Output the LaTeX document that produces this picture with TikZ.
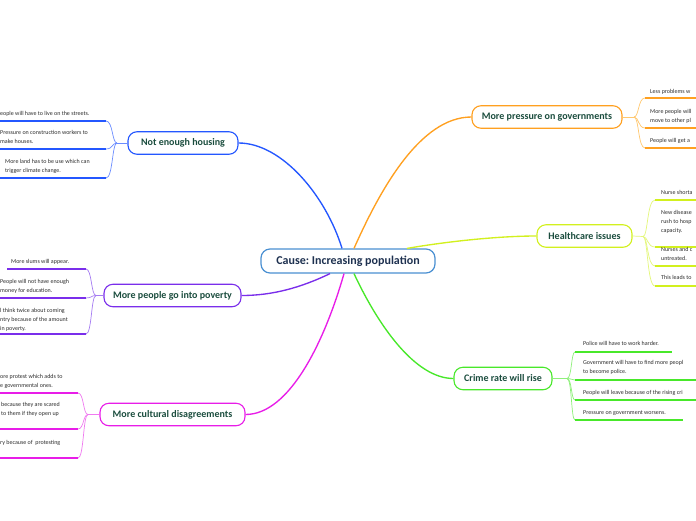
\documentclass[tikz,border=0pt]{standalone}
\usepackage{fontspec}
\setmainfont{Carlito}
\usetikzlibrary{calc}
\frenchspacing
\definecolor{ntext}{HTML}{1B4D3E}
\definecolor{rtext}{HTML}{1E3150}
\definecolor{stext}{HTML}{2E2E2E}
\definecolor{cblue}{HTML}{4A90D2}
\definecolor{bBlue}{HTML}{2457FF}
\definecolor{bBlueL}{HTML}{6A8CFF}
\definecolor{bPurple}{HTML}{7A2EEB}
\definecolor{bPurpleL}{HTML}{A57CF2}
\definecolor{bMag}{HTML}{E81DE8}
\definecolor{bMagL}{HTML}{F07AF0}
\definecolor{bOrange}{HTML}{FFA020}
\definecolor{bOrangeL}{HTML}{FFC870}
\definecolor{bYel}{HTML}{D2F01E}
\definecolor{bYelL}{HTML}{E4F77A}
\definecolor{bGreen}{HTML}{48E82A}
\definecolor{bGreenL}{HTML}{8EF07A}
\colorlet{lc}{black}
\colorlet{mc}{black}
\tikzset{
  rootbox/.style={draw=cblue, line width=1.2pt, rounded corners=9pt, fill=white,
    minimum width=174pt, minimum height=24pt, inner sep=0pt, text=rtext,
    font=\fontsize{12}{14}\selectfont\bfseries},
  mainbox/.style={draw=#1, line width=1.1pt, rounded corners=9pt, fill=white,
    minimum height=22.5pt, inner sep=0pt, text=ntext,
    font=\fontsize{10}{11}\selectfont\bfseries},
  conn/.style={draw=#1, line width=1.35pt},
  subtxt/.style={anchor=north west, inner sep=0pt, align=left, text=stext,
    font=\fontsize{6}{9}\selectfont},
  subln/.style={draw=lc, line width=0.7pt},
  uln/.style={draw=mc, line width=1.6pt},
}
% right sub item: #1 name, #2 fan, #3 ux start, #4 uy, #5 ux end, #6 text x, #7 text top, #8 text
\newcommand{\RSubItem}[8]{%
  \node[subtxt] (#1) at (#6,#7) {#8};
  \coordinate (#1s) at (#3,#4);
  \coordinate (#1e) at (#5,#4);
  \draw[subln] (#2) .. controls ($(#2)+(5,0)$) and ($(#2 |- #1s)+(4,0)$) .. (#1s);
  \draw[uln] (#1s) -- (#1e);
}
% left sub item: #1 name, #2 fan, #3 ux end (right), #4 uy, #5 ux start (left), #6 text x, #7 text top, #8 text
\newcommand{\LSubItem}[8]{%
  \node[subtxt] (#1) at (#6,#7) {#8};
  \coordinate (#1e) at (#3,#4);
  \coordinate (#1s) at (#5,#4);
  \draw[subln] (#2) .. controls ($(#2)+(-5,0)$) and ($(#2 |- #1e)+(-4,0)$) .. (#1e);
  \draw[uln] (#1e) -- (#1s);
}
\begin{document}
\begin{tikzpicture}[x=1pt,y=-1pt]
\useasboundingbox (0,0) rectangle (696,520);
\clip (0,0) rectangle (696,520);
\fill[white] (0,0) rectangle (696,520);

% nodes
\node[rootbox] (root) at (348,261) {Cause: Increasing population};
\node[mainbox=bBlue, minimum width=110pt] (H) at (183,143) {Not enough housing};
\node[mainbox=bPurple, minimum width=137pt] (P) at (172.5,295.5) {More people go into poverty};
\node[mainbox=bMag, minimum width=145pt] (M) at (172.5,414.5) {More cultural disagreements};
\node[mainbox=bOrange, minimum width=150pt] (O) at (547,117) {More pressure on governments};
\node[mainbox=bYel, minimum width=95pt] (Y) at (584.5,236) {Healthcare issues};
\node[mainbox=bGreen, minimum width=98pt] (C) at (503,378.5) {Crime rate will rise};

% main connectors
\draw[conn=bBlue] ($(root.north)+(-6,0)$) .. controls (326,196) and (282,143) .. (H.east);
\draw[conn=bOrange] ($(root.north)+(6,0)$) .. controls (380,190) and (420,117) .. (O.west);
\draw[conn=bYel] ($(root.north)+(59,0)$) .. controls (450,241) and (500,236) .. (Y.west);
\draw[conn=bPurple] ($(root.south)+(-18,0)$) .. controls (300,288) and (272,295.5) .. (P.east);
\draw[conn=bMag] ($(root.south)+(-4,0)$) .. controls (325,340) and (290,414.5) .. (M.east);
\draw[conn=bGreen] ($(root.south)+(6,0)$) .. controls (378,325) and (415,378.5) .. (C.west);

% Not enough housing
\begin{scope}
\colorlet{lc}{bBlueL}\colorlet{mc}{bBlue}
\coordinate (fH) at (117,143);
\draw[subln] (H.west) -- (fH);
\LSubItem{h1}{fH}{106}{121}{0}{0}{111.2}{eople will have to live on the streets.}
\LSubItem{h2}{fH}{106}{149}{0}{0}{130.2}{Pressure on construction workers to\\make houses.}
\LSubItem{h3}{fH}{106}{178}{0}{5}{159.2}{More land has to be use which can\\trigger climate change.}
\end{scope}

% More people go into poverty
\begin{scope}
\colorlet{lc}{bPurpleL}\colorlet{mc}{bPurple}
\coordinate (fP) at (96,295.5);
\draw[subln] (P.west) -- (fP);
\LSubItem{p1}{fP}{86}{269}{7}{11}{259.2}{More slums will appear.}
\LSubItem{p2}{fP}{86}{298}{0}{0}{279.2}{People will not have enough\\money for education.}
\LSubItem{p3}{fP}{86}{334}{0}{0}{308.2}{l think twice about coming\\ntry because of the amount\\in poverty.}
\end{scope}

% More cultural disagreements
\begin{scope}
\colorlet{lc}{bMagL}\colorlet{mc}{bMag}
\coordinate (fM) at (88,414.5);
\draw[subln] (M.west) -- (fM);
\LSubItem{m1}{fM}{78}{393}{0}{0}{374.2}{ore protest which adds to\\e governmental ones.}
\LSubItem{m2}{fM}{78}{429}{0}{1}{402.2}{because they are scared\\to them if they open up}
\LSubItem{m3}{fM}{78}{458}{0}{0}{440.2}{ry because of~ protesting}
\end{scope}

% More pressure on governments
\begin{scope}
\colorlet{lc}{bOrangeL}\colorlet{mc}{bOrange}
\coordinate (fO) at (634,117);
\draw[subln] (O.east) -- (fO);
\RSubItem{o1}{fO}{645}{98}{696}{650}{89.2}{Less problems w}
\RSubItem{o2}{fO}{645}{128}{696}{650}{109.2}{More people will\\move to other pl}
\RSubItem{o3}{fO}{645}{148}{696}{650}{138.2}{People will get a}
\end{scope}

% Healthcare issues
\begin{scope}
\colorlet{lc}{bYelL}\colorlet{mc}{bYel}
\coordinate (fY) at (643,236.5);
\draw[subln] (Y.east) -- (fY);
\RSubItem{y1}{fY}{655}{200}{696}{661}{190.2}{Nurse shorta}
\RSubItem{y2}{fY}{655}{247}{696}{661}{210.2}{New disease\\rush to hosp\\capacity.}
\RSubItem{y3}{fY}{655}{266}{696}{661}{247.2}{Nurses and c\\untreated.}
\RSubItem{y4}{fY}{655}{286}{696}{661}{275.2}{This leads to}
\end{scope}

% Crime rate will rise
\begin{scope}
\colorlet{lc}{bGreenL}\colorlet{mc}{bGreen}
\coordinate (fC) at (567,378.5);
\draw[subln] (C.east) -- (fC);
\RSubItem{g1}{fC}{575}{352}{672}{583}{341.2}{Police will have to work harder.}
\RSubItem{g2}{fC}{575}{380}{696}{583}{360.2}{Government will have to find more peopl\\to become police.}
\RSubItem{g3}{fC}{575}{400}{696}{583}{390.2}{People will leave because of the rising cri}
\RSubItem{g4}{fC}{575}{420}{683}{583}{410.2}{Pressure on government worsens.}
\end{scope}
\end{tikzpicture}
\end{document}
